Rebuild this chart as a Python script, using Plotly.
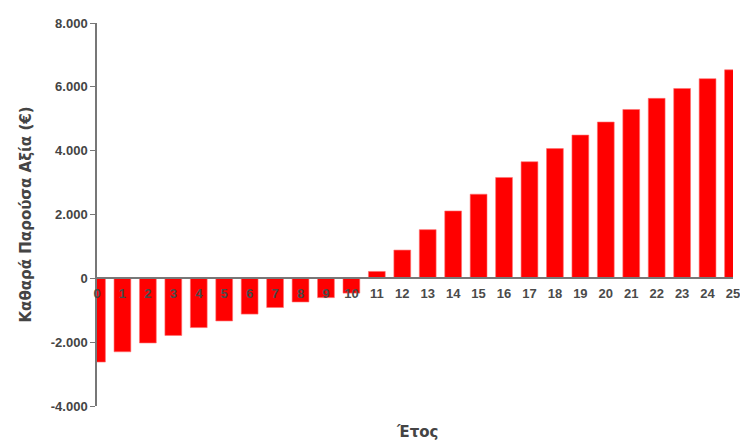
import plotly.graph_objects as go

years = list(range(26))
npv = [-2623, -2302, -2025, -1790, -1543, -1336, -1120, -914, -741, -605, -463,
       216, 886, 1525, 2111, 2636, 3160, 3654, 4065, 4488, 4898, 5290, 5639, 5948, 6256, 6534]
y_tickvals = [-4000, -2000, 0, 2000, 4000, 6000, 8000]
y_ticktext = ["-4.000", "-2.000", "0", "2.000", "4.000", "6.000", "8.000"]
y_title = "Καθαρά Παρούσα Αξία (€)"
x_title = "Έτος"

ymin, ymax = -4000, 8000
FONT = "DejaVu Sans, Verdana, sans-serif"
ARIAL = "Liberation Sans, Arial, sans-serif"

fig = go.Figure(go.Bar(
    x=years, y=npv, width=0.66,
    marker=dict(color="#ff0000", line=dict(color="#ff7070", width=0.6)),
))

fig.update_layout(
    width=740, height=435,
    margin=dict(l=89, r=8, t=9, b=37),
    paper_bgcolor="white", plot_bgcolor="white",
    showlegend=False,
    font=dict(family=FONT, color="#444"),
    xaxis=dict(
        range=[0, 25], tickmode="array", tickvals=years,
        ticktext=["<b>" + str(v) + "</b>" for v in years],
        showgrid=False, zeroline=False, showline=True, linecolor="#777", linewidth=1.5,
        ticks="", anchor="free", position=(0 - ymin) / (ymax - ymin),
        ticklabelstandoff=3,
        tickfont=dict(size=13, color="#4a4a4a", family=ARIAL),
    ),
    yaxis=dict(
        range=[ymin, ymax], tickmode="array", tickvals=y_tickvals,
        ticktext=["<b>" + t + "</b>" for t in y_ticktext],
        showgrid=False, zeroline=False, showline=True, linecolor="#777", linewidth=1.5,
        ticks="outside", ticklen=5, tickcolor="#777",
        tickfont=dict(size=13, color="#444", family=ARIAL),
        title=dict(text="<b>" + y_title + "</b>", font=dict(size=15, color="#444", family=FONT), standoff=16),
    ),
    annotations=[dict(
        text="<b>" + x_title + "</b>", xref="paper", yref="paper",
        x=0.503, y=-0.068, showarrow=False, yanchor="middle",
        font=dict(size=15, color="#444", family=FONT),
    )],
)

fig.write_html("out.html")
